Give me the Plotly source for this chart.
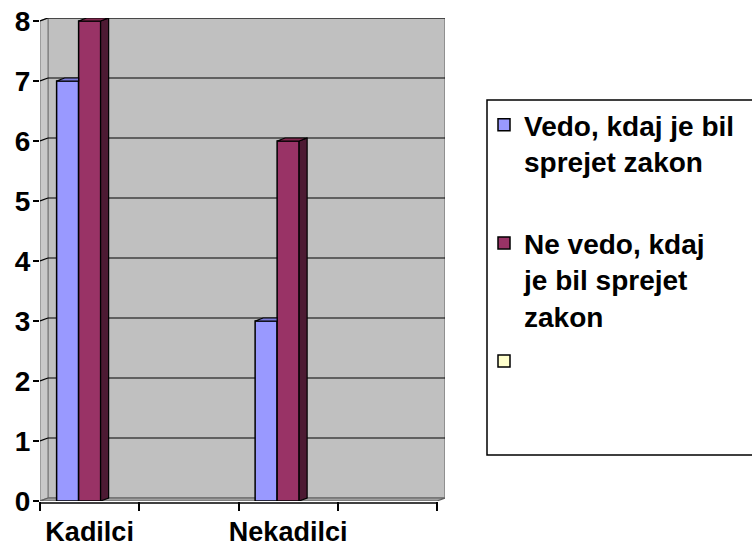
import plotly.graph_objects as go

# ---- data ----
categories = ["Kadilci", "", "Nekadilci", ""]
series_names = ["Vedo, kdaj je bil<br>sprejet zakon<br> ",
                "Ne vedo, kdaj<br>je bil sprejet<br>zakon",
                " "]
vedo = [7, None, 3, None]
ne_vedo = [8, None, 6, None]
tretji = [None, None, None, None]
y_ticks = [0, 1, 2, 3, 4, 5, 6, 7, 8]

# ---- style ----
front_colors = ["#9999FF", "#993366", "#FFFFCC"]
side_colors = ["#4D4D80", "#4D1A33", "#80806A"]
top_colors = ["#7B7BD6", "#82294F", "#E0E0B0"]
FONT = "Liberation Sans, Arial, sans-serif"
dx = 8 / 99.25   # depth offset (x units)
dy = 3 / 60      # depth offset (y units)
bargap = 0.335
series = [vedo, ne_vedo, tretji]
n = len(series)
w = (1 - bargap) / n
xs = list(range(len(categories)))
ymax = max(y_ticks)

fig = go.Figure()

for i, vals in enumerate(series):
    fig.add_trace(go.Bar(
        x=xs, y=vals, name=series_names[i], width=w, offset=-n * w / 2 + i * w,
        marker=dict(color=front_colors[i], line=dict(color="black", width=1.5)),
        legendgroup="g%d" % i, hoverinfo="skip"))

# 3D faces
for i, vals in enumerate(series):
    for c, v in zip(xs, vals):
        if v is None:
            continue
        xl = c - n * w / 2 + i * w
        xr = xl + w
        nxt = series[i + 1][c] if i + 1 < n else None
        hidden = nxt is not None and nxt >= v
        if hidden:
            tx = [xl, xr, xr, xl + dx, xl]
            ty = [v, v, v + dy, v + dy, v]
        else:
            tx = [xl, xr, xr + dx, xl + dx, xl]
            ty = [v, v, v + dy, v + dy, v]
            fig.add_trace(go.Scatter(
                x=[xr, xr + dx, xr + dx, xr, xr], y=[0, dy, v + dy, v, 0],
                mode="lines", fill="toself", fillcolor=side_colors[i],
                line=dict(color="black", width=1.2), showlegend=False, hoverinfo="skip"))
        fig.add_trace(go.Scatter(
            x=tx, y=ty, mode="lines", fill="toself", fillcolor=top_colors[i],
            line=dict(color="black", width=1.2), showlegend=False, hoverinfo="skip"))

x0, x1 = -0.5, len(categories) - 0.5
shapes = []
# back wall
shapes.append(dict(type="rect", xref="x", yref="y", x0=x0 + dx, x1=x1 + dx, y0=dy, y1=ymax + dy,
                   fillcolor="#C0C0C0", line=dict(color="#808080", width=1.5), layer="below"))
# left wall
shapes.append(dict(type="path", xref="x", yref="y",
                   path=f"M{x0},0 L{x0+dx},{dy} L{x0+dx},{ymax+dy} L{x0},{ymax} Z",
                   fillcolor="#C8C8C8", line=dict(color="#808080", width=1.2), layer="below"))
# floor
shapes.append(dict(type="path", xref="x", yref="y",
                   path=f"M{x0},0 L{x1},0 L{x1+dx},{dy} L{x0+dx},{dy} Z",
                   fillcolor="#A0A0A0", line=dict(color="#606060", width=1.2), layer="below"))
# grid lines on back wall and left wall
for t in y_ticks[1:]:
    shapes.append(dict(type="line", xref="x", yref="y", x0=x0 + dx, x1=x1 + dx, y0=t + dy, y1=t + dy,
                       line=dict(color="black", width=1.2), layer="below"))
    shapes.append(dict(type="line", xref="x", yref="y", x0=x0, x1=x0 + dx, y0=t, y1=t + dy,
                       line=dict(color="black", width=1.2), layer="below"))
# x axis line
shapes.append(dict(type="line", xref="x", yref="paper", x0=x0, x1=x1, y0=-0.004, y1=-0.004,
                   line=dict(color="black", width=1.5)))
# legend frame
shapes.append(dict(type="rect", xref="paper", yref="paper", x0=(487 - 40) / 405, x1=1.9,
                   y0=(501 - 455) / 483, y1=(501 - 100) / 483,
                   line=dict(color="black", width=1.5), fillcolor="rgba(0,0,0,0)"))

# plot area at x 40..445, y 18..501 (page body margin removed below)
fig.update_layout(
    width=752, height=549,
    margin=dict(l=40, r=307, t=18, b=48, autoexpand=False),
    paper_bgcolor="white", plot_bgcolor="white",
    barmode="overlay",
    shapes=shapes,
    font=dict(family=FONT, size=27, color="black", weight="bold"),
    xaxis=dict(range=[x0, x1 + dx], tickvals=[c for c, l in zip(xs, categories) if l],
               ticktext=[l for l in categories if l], ticks="", showgrid=False, zeroline=False,
               showline=False, automargin=False, ticklabelstandoff=12,
               ticklabeloverflow="allow",
               minor=dict(tickvals=[x0 + k for k in range(len(categories) + 1)], ticks="outside",
                          ticklen=9, tickcolor="black", tickwidth=1.5, showgrid=False),
               tickfont=dict(family=FONT, size=27, weight="bold")),
    yaxis=dict(range=[0, ymax + dy], tickvals=y_ticks, ticks="outside", ticklen=6,
               tickcolor="black", tickwidth=1.5, showgrid=False, zeroline=False, showline=False,
               automargin=False, ticklabelstandoff=-3, ticklabeloverflow="allow",
               tickfont=dict(family=FONT, size=28, weight="bold")),
    legend=dict(x=(484 - 40) / 405, xanchor="left", y=(501 - 100) / 483, yanchor="top",
                valign="top", bgcolor="rgba(0,0,0,0)", traceorder="grouped", tracegroupgap=6,
                font=dict(family=FONT, size=28, weight="bold")),
    showlegend=True,
)

fig.write_html("out.html", config={"displayModeBar": False},
               post_script="document.body.style.margin='0px';document.body.style.overflow='hidden';")
